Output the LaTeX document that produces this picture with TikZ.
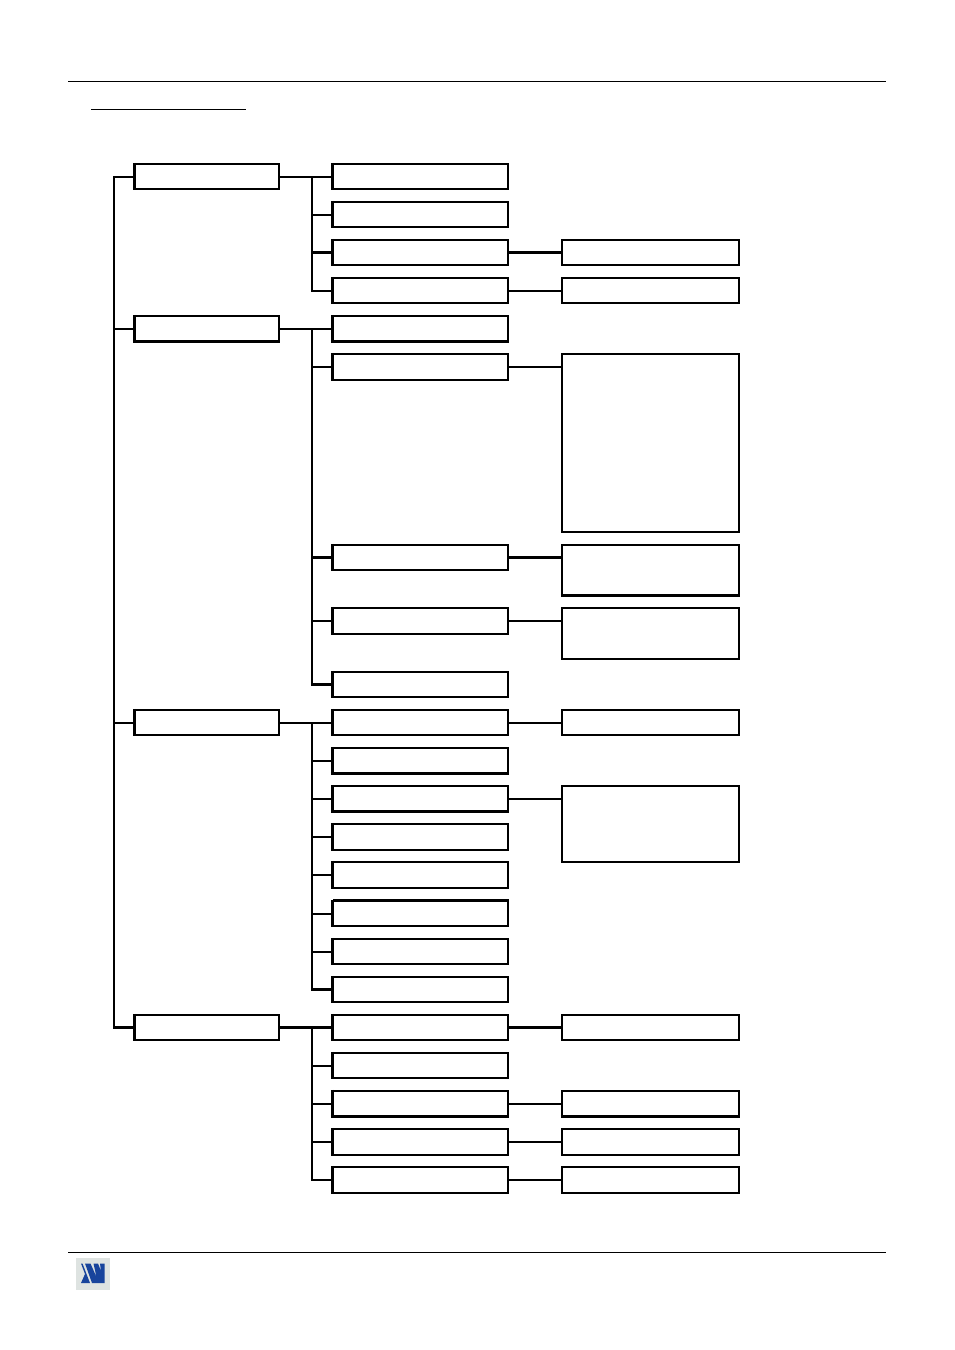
\documentclass[tikz,border=0pt]{standalone}
\definecolor{logoblue}{RGB}{24,68,156}
\definecolor{logogrey}{RGB}{222,227,225}
\tikzset{
  x=0.75pt,y=-0.75pt,
  wire/.style={line width=1.5pt,line cap=rect},
  heavy/.style={line width=2.25pt},
  edgeleft/.style={line width=2pt,line cap=butt},
  edgeheavy/.style={line width=2.7pt,line cap=butt},
  rule/.style={line width=0.85pt},
  boxn/.style={draw,line width=1.6pt,fill=white,inner sep=0pt,outer sep=0pt,anchor=north west},
}
% name, left, top, right, bottom
\newcommand{\bx}[5]{\node[boxn,minimum width={(#4-#2)*0.75pt},minimum height={(#5-#3)*0.75pt}] (#1) at (#2,#3) {};}
% the same, with a heavier left edge
\newcommand{\bxl}[5]{\bx{#1}{#2}{#3}{#4}{#5}\draw[edgeleft] ([xshift=0.2pt,yshift=0.8pt]#1.north west) -- ([xshift=0.2pt,yshift=-0.8pt]#1.south west);}
% a heavier bottom or top edge on an existing box
\newcommand{\btm}[1]{\draw[edgeheavy] ([xshift=-0.8pt,yshift=-0.3pt]#1.south west) -- ([xshift=0.8pt,yshift=-0.3pt]#1.south east);}
\newcommand{\tp}[1]{\draw[edgeheavy] ([xshift=1pt,yshift=0.3pt]#1.north west) -- ([xshift=0.8pt,yshift=0.3pt]#1.north east);}
\begin{document}
\begin{tikzpicture}
\useasboundingbox[fill=white] (0,0) rectangle (954,1350);
\coordinate (hl) at (68,81.5); \coordinate (hr) at (886,81.5);
\coordinate (ul) at (91,109.5); \coordinate (ur) at (246,109.5);
\coordinate (fl) at (68,1252.5); \coordinate (fr) at (886,1252.5);
\draw[rule] (hl) -- (hr);
\draw[rule] (ul) -- (ur);
\draw[rule] (fl) -- (fr);
% logo
\fill[logogrey] (76,1257.5) rectangle (109.5,1290);
\fill[logoblue] (81,1263.5) -- (82.5,1263.5) -- (90,1283) -- (81,1283) -- (85,1274) -- cycle;
\fill[logoblue] (85,1263.5) -- (90.5,1263.5) -- (96.5,1277) -- (93.5,1263.5) -- (98,1263.5) -- (101,1271) -- (100,1263.5) -- (104.5,1263.5) -- (104.5,1283) -- (92,1283) -- cycle;
% column 1
\bxl{a1}{134}{164}{279}{189}
\bxl{a2}{134}{316}{279}{341}\btm{a2}
\bxl{a3}{134}{710}{279}{735}
\bxl{a4}{134}{1015}{279}{1040}
% column 2
\bxl{b1}{332}{164}{508}{189}
\bxl{b2}{332}{202}{508}{227}
\bxl{b3}{332}{240}{508}{265}
\bxl{b4}{332}{278}{508}{303}
\bxl{c1}{332}{316}{508}{341}\btm{c1}
\bxl{c2}{332}{354}{508}{380}
\bxl{c3}{332}{545}{508}{570}
\bxl{c4}{332}{608}{508}{634}
\bxl{c5}{332}{672}{508}{697}
\bxl{d1}{332}{710}{508}{735}
\bxl{d2}{332}{748}{508}{773}\btm{d2}
\bxl{d3}{332}{786}{508}{811}\btm{d3}
\bxl{d4}{332}{824}{508}{850}
\bxl{d5}{332}{862}{508}{888}
\bxl{d6}{332}{901}{508}{926}\tp{d6}
\bxl{d7}{332}{939}{508}{964}
\bxl{d8}{332}{977}{508}{1002}
\bxl{e1}{332}{1015}{508}{1040}
\bxl{e2}{332}{1053}{508}{1078}
\bxl{e3}{332}{1091}{508}{1116}\btm{e3}
\bxl{e4}{332}{1129}{508}{1155}
\bxl{e5}{332}{1167}{508}{1193}
% column 3
\bx{f3}{562}{240}{739}{265}
\bx{f4}{562}{278}{739}{303}
\bx{g2}{562}{354}{739}{532}
\bx{g3}{562}{545}{739}{595}\btm{g3}
\bx{g4}{562}{608}{739}{659}
\bx{h1}{562}{710}{739}{735}
\bx{h3}{562}{786}{739}{862}
\bx{i1}{562}{1015}{739}{1040}
\bx{i3}{562}{1091}{739}{1116}\btm{i3}
\bx{i4}{562}{1129}{739}{1155}
\bx{i5}{562}{1167}{739}{1193}
% trunk lines
\coordinate (ta) at (114,176.5);
\coordinate (tb) at (312,176.5);
\draw[wire] (a1.west) -- (a1.west -| ta) -- (a4.west -| ta);
\draw[wire] (a2.west -| ta) -- (a2.west);
\draw[wire] (a3.west -| ta) -- (a3.west);
\draw[heavy] (a4.west -| ta) -- (a4.west);
\draw[wire] (b1.west -| tb) -- (b4.west -| tb);
\draw[wire] (c1.west -| tb) -- (c5.west -| tb);
\draw[wire] (d1.west -| tb) -- (d8.west -| tb);
\draw[wire] (e1.west -| tb) -- (e5.west -| tb);
% column 1 to 2
\draw[wire] (a1.east) -- (b1.west);
\draw[wire] (a2.east) -- (c1.west);
\draw[wire] (a3.east) -- (d1.west);
\draw[heavy] (a4.east) -- (e1.west);
% stubs to column 2
\draw[wire] (b2.west -| tb) -- (b2.west);
\draw[heavy] (b3.west -| tb) -- (b3.west);
\draw[wire] (b4.west -| tb) -- (b4.west);
\draw[wire] (c2.west -| tb) -- (c2.west);
\draw[heavy] (c3.west -| tb) -- (c3.west);
\draw[wire] (c4.west -| tb) -- (c4.west);
\draw[heavy] (c5.west -| tb) -- (c5.west);
\draw[wire] (d2.west -| tb) -- (d2.west);
\draw[wire] (d3.west -| tb) -- (d3.west);
\draw[wire] (d4.west -| tb) -- (d4.west);
\draw[wire] (d5.west -| tb) -- (d5.west);
\draw[wire] (d6.west -| tb) -- (d6.west);
\draw[wire] (d7.west -| tb) -- (d7.west);
\draw[heavy] (d8.west -| tb) -- (d8.west);
\draw[wire] (e2.west -| tb) -- (e2.west);
\draw[wire] (e3.west -| tb) -- (e3.west);
\draw[wire] (e4.west -| tb) -- (e4.west);
\draw[wire] (e5.west -| tb) -- (e5.west);
% column 2 to 3
\draw[heavy] (b3.east) -- (f3.west);
\draw[wire] (b4.east) -- (f4.west);
\draw[wire] (c2.east) -- (c2.east -| g2.west);
\draw[heavy] (c3.east) -- (c3.east -| g3.west);
\draw[wire] (c4.east) -- (c4.east -| g4.west);
\draw[wire] (d1.east) -- (h1.west);
\draw[wire] (d3.east) -- (d3.east -| h3.west);
\draw[heavy] (e1.east) -- (i1.west);
\draw[wire] (e3.east) -- (i3.west);
\draw[wire] (e4.east) -- (i4.west);
\draw[wire] (e5.east) -- (i5.west);
\end{tikzpicture}
\end{document}
